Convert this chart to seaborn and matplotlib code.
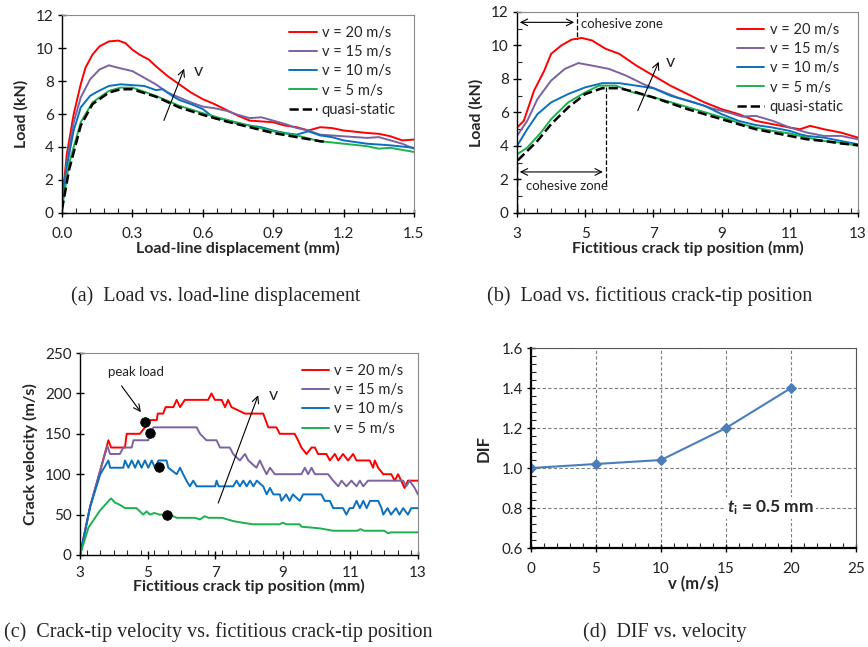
"""
Four panel figure: load and crack velocity curves for different loading rates,
plus the dynamic increase factor (DIF) against velocity.
"""

import numpy as np
import pandas as pd
import matplotlib
matplotlib.use("Agg")
import matplotlib.pyplot as plt
from matplotlib.ticker import MultipleLocator, AutoMinorLocator
import seaborn as sns

# ---------------- data ----------------
SERIES = ["v = 20 m/s", "v = 15 m/s", "v = 10 m/s", "v = 5 m/s", "quasi-static"]
COLORS = ["#FF0000", "#7B62A3", "#0A70C0", "#1DB04F", "black"]

# (a) load vs load-line displacement (mm, kN)
a_x20 = [0, 0.02, 0.05, 0.08, 0.1, 0.13, 0.16, 0.2, 0.24, 0.27, 0.3, 0.33, 0.37, 0.4, 0.45,
         0.5, 0.55, 0.6, 0.65, 0.7, 0.75, 0.8, 0.85, 0.9, 0.95, 1.0, 1.05, 1.1, 1.15, 1.2,
         1.3, 1.35, 1.4, 1.45, 1.5]
a_y20 = [0.5, 3.5, 6.0, 7.8, 8.8, 9.6, 10.1, 10.4, 10.45, 10.3, 9.9, 9.6, 9.3, 8.9, 8.3,
         7.8, 7.3, 6.9, 6.6, 6.25, 5.9, 5.6, 5.55, 5.5, 5.3, 5.2, 5.0, 5.2, 5.15, 5.0,
         4.85, 4.8, 4.65, 4.4, 4.45]
a_x15 = [0, 0.02, 0.05, 0.08, 0.12, 0.16, 0.2, 0.24, 0.3, 0.35, 0.4, 0.45, 0.5, 0.55, 0.6,
         0.65, 0.7, 0.75, 0.8, 0.85, 0.9, 0.95, 1.0, 1.05, 1.1, 1.2, 1.3, 1.35, 1.4, 1.45, 1.5]
a_y15 = [0.4, 3.0, 5.5, 7.0, 8.1, 8.7, 8.95, 8.8, 8.6, 8.2, 7.8, 7.3, 7.0, 6.7, 6.45,
         6.35, 6.2, 5.95, 5.75, 5.8, 5.6, 5.4, 5.15, 5.0, 4.75, 4.65, 4.55, 4.6, 4.4, 4.2, 3.9]
a_x10 = [0, 0.02, 0.05, 0.08, 0.12, 0.15, 0.2, 0.25, 0.3, 0.35, 0.4, 0.43, 0.47, 0.5, 0.55,
         0.6, 0.65, 0.7, 0.75, 0.8, 0.85, 0.9, 0.95, 1.0, 1.05, 1.1, 1.15, 1.2, 1.3, 1.4, 1.5]
a_y10 = [0.3, 2.8, 5.0, 6.4, 7.1, 7.35, 7.7, 7.8, 7.75, 7.7, 7.45, 7.5, 7.1, 6.85, 6.6,
         6.3, 5.75, 5.65, 5.4, 5.3, 5.2, 5.0, 4.85, 4.75, 4.95, 4.7, 4.6, 4.4, 4.2, 4.1, 3.95]
a_x5 = [0, 0.03, 0.08, 0.13, 0.2, 0.25, 0.3, 0.35, 0.4, 0.45, 0.5, 0.6, 0.7, 0.8, 0.9,
        1.0, 1.1, 1.2, 1.3, 1.35, 1.4, 1.5]
a_y5 = [0.3, 3.0, 5.5, 6.7, 7.4, 7.6, 7.6, 7.35, 7.1, 6.8, 6.5, 6.05, 5.65, 5.3, 4.95,
        4.7, 4.35, 4.2, 4.05, 3.9, 3.95, 3.7]
a_xqs = [0, 0.03, 0.08, 0.13, 0.2, 0.25, 0.3, 0.4, 0.5, 0.6, 0.7, 0.8, 0.9, 1.0, 1.1, 1.13]
a_yqs = [0.2, 2.6, 5.3, 6.6, 7.3, 7.5, 7.5, 7.05, 6.4, 5.95, 5.55, 5.2, 4.85, 4.6, 4.35, 4.3]

# (b) load vs fictitious crack tip position (mm, kN)
b_x20 = [3, 3, 3.2, 3.5, 3.8, 4.0, 4.3, 4.6, 4.9, 5.2, 5.6, 6.0, 6.5, 7.0, 7.5, 8.0, 8.5,
         9.0, 9.5, 10.0, 10.5, 11.0, 11.3, 11.6, 12.0, 12.5, 13.0]
b_y20 = [0, 5.1, 5.5, 7.3, 8.5, 9.5, 10.0, 10.35, 10.45, 10.3, 9.8, 9.5, 8.8, 8.2, 7.6,
         7.1, 6.6, 6.2, 5.9, 5.5, 5.3, 5.1, 5.0, 5.2, 5.0, 4.8, 4.5]
b_x15 = [3, 3, 3.3, 3.6, 4.0, 4.4, 4.8, 5.2, 5.7, 6.2, 6.7, 7.2, 7.7, 8.2, 8.7, 9.2, 9.6,
         10.0, 10.5, 11.0, 11.5, 12.0, 12.5, 13.0]
b_y15 = [0, 4.6, 5.5, 6.8, 7.9, 8.6, 8.95, 8.8, 8.6, 8.2, 7.7, 7.3, 6.9, 6.6, 6.25, 6.0,
         5.75, 5.8, 5.5, 5.1, 4.8, 4.6, 4.6, 4.4]
b_x10 = [3, 3, 3.3, 3.6, 4.0, 4.5, 5.0, 5.5, 6.0, 6.5, 7.0, 7.5, 8.0, 8.5, 9.0, 9.5, 10.0,
         10.5, 11.0, 11.3, 11.5, 12.0, 12.5, 13.0]
b_y10 = [0, 4.0, 5.0, 5.9, 6.6, 7.1, 7.5, 7.75, 7.75, 7.6, 7.45, 7.0, 6.7, 6.4, 5.9, 5.5,
         5.25, 5.1, 4.9, 4.7, 4.6, 4.5, 4.3, 4.1]
b_x5 = [3, 3, 3.3, 3.7, 4.0, 4.5, 5.0, 5.4, 5.9, 6.4, 6.8, 7.2, 7.7, 8.2, 8.7, 9.2, 9.6,
        10.0, 10.5, 11.0, 11.5, 12.0, 12.5, 13.0]
b_y5 = [0, 3.5, 3.9, 4.8, 5.6, 6.6, 7.2, 7.6, 7.6, 7.2, 7.0, 6.8, 6.5, 6.2, 5.9, 5.6,
        5.3, 5.1, 4.9, 4.75, 4.5, 4.3, 4.2, 4.0]
b_xqs = [3, 3, 3.2, 3.6, 4.0, 4.5, 5.0, 5.5, 6.0, 6.5, 7.0, 7.5, 8.0, 8.5, 9.0, 9.5, 10.0,
         10.5, 11.0, 11.5, 12.0, 12.5, 13.0]
b_yqs = [0, 3.1, 3.5, 4.3, 5.3, 6.3, 7.1, 7.45, 7.45, 7.2, 6.9, 6.55, 6.2, 5.9, 5.6, 5.3,
         5.0, 4.8, 4.6, 4.4, 4.3, 4.15, 4.05]

# (c) crack velocity vs fictitious crack tip position (mm, m/s)
c_x20 = [3.0, 3.3, 3.6, 3.84, 3.92, 4.33, 4.38, 4.77, 4.92, 5.07, 5.27, 5.3, 5.46, 5.53,
         5.76, 5.86, 5.96, 6.1, 6.79, 6.89, 6.99, 7.19, 7.29, 7.38, 7.48, 7.88, 8.42, 8.57,
         8.81, 8.91, 9.35, 9.45, 9.55, 9.7, 9.85, 9.95, 10.04, 10.29, 10.39, 10.54, 10.64,
         10.78, 10.93, 11.08, 11.18, 11.57, 11.67, 11.72, 11.82, 11.97, 12.21, 12.31, 12.41,
         12.5, 12.6, 12.7, 13.0]
c_y20 = [0, 60, 105, 142, 133, 133, 150, 150, 158, 167, 167, 175, 175, 183,
         183, 192, 183, 192, 192, 200, 192, 192, 183, 192, 183, 175, 175, 158,
         158, 150, 150, 142, 133, 125, 133, 133, 125, 125, 117, 125, 117,
         125, 117, 125, 117, 117, 108, 117, 108, 100, 100, 92, 100,
         92, 83, 92, 92]
c_x15 = [3.0, 3.3, 3.6, 3.81, 3.89, 4.18, 4.28, 4.53, 4.58, 5.02, 5.07, 5.17, 6.45, 6.55,
         6.74, 7.04, 7.14, 7.43, 7.53, 7.73, 7.88, 7.98, 8.22, 8.32, 8.42, 8.52, 8.62,
         8.76, 9.55, 9.65, 9.75, 9.85, 9.95, 10.34, 10.49, 10.64, 10.74, 10.88, 11.03,
         11.18, 11.28, 11.38, 11.52, 12.56, 12.65, 12.75, 12.9, 13.0]
c_y15 = [0, 60, 105, 135, 125, 125, 133, 133, 142, 142, 150, 158, 158, 150,
         142, 142, 133, 133, 125, 117, 125, 117, 108, 117, 108, 100, 108,
         100, 100, 108, 100, 108, 100, 100, 92, 85, 92, 85, 92,
         85, 92, 85, 92, 92, 85, 92, 83, 75]
c_x10 = [3.0, 3.3, 3.6, 3.84, 3.89, 4.28, 4.33, 4.43, 4.53, 4.63, 4.72, 4.82, 4.92, 5.02,
         5.12, 5.22, 5.32, 5.56, 5.61, 5.86, 5.96, 6.05, 6.15, 6.25, 6.35, 6.45, 7.0,
         7.04, 7.1, 7.53, 7.63, 7.73, 7.83, 7.93, 8.03, 8.13, 8.23, 8.42, 8.52, 8.62,
         8.72, 8.91, 8.96, 9.1, 9.2, 9.3, 9.5, 9.6, 10.14, 10.24, 10.39, 10.49, 10.78,
         10.88, 10.98, 11.08, 11.18, 11.28, 11.38, 11.48, 11.58, 11.82, 11.92, 11.97,
         12.1, 12.2, 12.35, 12.45, 12.56, 12.7, 12.8, 13.0]
c_y10 = [0, 60, 100, 117, 108, 108, 117, 108, 117, 108, 117, 108, 117, 108,
         117, 108, 117, 117, 108, 100, 108, 100, 92, 85, 92, 85, 85,
         92, 85, 85, 92, 85, 92, 85, 92, 85, 92, 85, 75, 83,
         75, 75, 67, 75, 67, 75, 67, 75, 75, 67, 67, 58, 58,
         50, 58, 58, 67, 58, 67, 58, 67, 67, 58, 50,
         58, 50, 58, 50, 58, 50, 58, 58]
c_x5 = [3.0, 3.25, 3.59, 3.89, 3.92, 4.03, 4.18, 4.33, 4.67, 4.77, 4.87, 4.97, 5.07,
        5.2, 5.35, 5.66, 5.86, 6.4, 6.55, 6.69, 6.8, 7.2, 7.53, 7.8, 8.12, 8.9, 9.0,
        9.1, 9.5, 9.55, 10.09, 10.49, 11.2, 11.3, 11.4, 12.0, 12.11, 12.2, 13.0]
c_y5 = [0, 34, 55, 69, 70, 65, 62, 58, 58, 54, 50, 54, 50,
        52, 50, 50, 46, 46, 44, 48, 46, 46, 42, 40, 38, 38, 40,
        38, 38, 35, 33, 30, 30, 32, 30, 30, 27, 28, 28]
c_peak_x = [4.92, 5.07, 5.33, 5.56]
c_peak_y = [164, 151, 109, 50]

# (d) DIF vs loading velocity
d_v = [0, 5, 10, 15, 20]
d_dif = [1.0, 1.02, 1.04, 1.2, 1.4]

TICK_FONT = 11
LABEL_FONT = 11.5
LEGEND_FONT = 10.5
CAPTION_FONT = 14.5


def style_axes(ax):
    """Excel-like frame: black left/bottom, grey top/right, inward minor ticks."""
    for side in ["left", "bottom"]:
        ax.spines[side].set_color("black")
        ax.spines[side].set_linewidth(1.0)
    for side in ["top", "right"]:
        ax.spines[side].set_visible(True)
        ax.spines[side].set_color("#8a8a8a")
        ax.spines[side].set_linewidth(0.8)
    ax.tick_params(which="major", direction="inout", length=6, width=1.0,
                   labelsize=TICK_FONT, colors="black", labelcolor="#222222")
    ax.tick_params(which="minor", direction="in", length=3.5, width=0.8)
    ax.tick_params(axis="x", which="major", pad=7)
    ax.tick_params(axis="y", which="major", pad=3)
    ax.tick_params(top=False, right=False, which="both")


def add_legend(ax, anchor, handlelength=1.9):
    ax.legend(loc="upper right", bbox_to_anchor=anchor, frameon=False,
              fontsize=LEGEND_FONT, handlelength=handlelength, handletextpad=0.35,
              labelspacing=0.36, borderaxespad=0.0)


def draw_lines(ax, xs, ys, labels, colors):
    for x, y, lab, col in zip(xs, ys, labels, colors):
        ls = "--" if lab == "quasi-static" else "-"
        lw = 1.8 if lab == "quasi-static" else 1.4
        sns.lineplot(x=x, y=y, ax=ax, color=col, lw=lw, linestyle=ls, label=lab,
                     estimator=None, sort=False)


def panel_a(ax):
    draw_lines(ax, [a_x20, a_x15, a_x10, a_x5, a_xqs],
               [a_y20, a_y15, a_y10, a_y5, a_yqs], SERIES, COLORS)
    ax.set_xlim(0, 1.5)
    ax.set_ylim(0, 12)
    ax.xaxis.set_major_locator(MultipleLocator(0.3))
    ax.xaxis.set_minor_locator(AutoMinorLocator(5))
    ax.yaxis.set_major_locator(MultipleLocator(2))
    ax.xaxis.set_major_formatter(plt.FormatStrFormatter("%.1f"))
    style_axes(ax)
    ax.set_xlabel("Load-line displacement (mm)", fontsize=LABEL_FONT, fontweight="bold", labelpad=0)
    ax.set_ylabel("Load (kN)", fontsize=LABEL_FONT, fontweight="bold", labelpad=5)
    ax.annotate("", xy=(0.525, 8.9), xytext=(0.43, 5.45),
                arrowprops=dict(arrowstyle="->", lw=0.8, color="black"))
    ax.text(0.58, 8.6, "v", fontsize=13, va="center", ha="center")
    add_legend(ax, (0.965, 0.975))


def panel_b(ax):
    draw_lines(ax, [b_x20, b_x15, b_x10, b_x5, b_xqs],
               [b_y20, b_y15, b_y10, b_y5, b_yqs], SERIES, COLORS)
    ax.set_xlim(3, 13)
    ax.set_ylim(0, 12)
    ax.set_xticks(np.arange(3, 14, 2))
    ax.xaxis.set_minor_locator(MultipleLocator(0.4))
    ax.yaxis.set_major_locator(MultipleLocator(2))
    ax.yaxis.set_minor_locator(AutoMinorLocator(2))
    style_axes(ax)
    ax.set_xlabel("Fictitious crack tip position (mm)", fontsize=LABEL_FONT, fontweight="bold", labelpad=0)
    ax.set_ylabel("Load (kN)", fontsize=LABEL_FONT, fontweight="bold", labelpad=5)

    # cohesive zone markers
    ax.plot([4.76, 4.76], [12, 10.4], color="black", lw=0.9, ls="--")
    ax.annotate("", xy=(3.0, 11.38), xytext=(4.76, 11.38),
                arrowprops=dict(arrowstyle="<->", lw=0.8, color="black"))
    ax.text(4.88, 11.3, "cohesive zone", fontsize=9.5, va="center", ha="left", color="#222222")
    ax.plot([5.6, 5.6], [7.5, 1.7], color="black", lw=0.9, ls="--")
    ax.annotate("", xy=(3.0, 2.45), xytext=(5.6, 2.45),
                arrowprops=dict(arrowstyle="<->", lw=0.8, color="black"))
    ax.text(3.25, 1.6, "cohesive zone", fontsize=9.5, va="center", ha="left", color="#222222")

    ax.annotate("", xy=(7.19, 9.18), xytext=(6.51, 5.96),
                arrowprops=dict(arrowstyle="->", lw=0.8, color="black"))
    ax.text(7.5, 9.0, "v", fontsize=13, va="center", ha="center")
    add_legend(ax, (0.975, 0.975))


def panel_c(ax):
    draw_lines(ax, [c_x20, c_x15, c_x10, c_x5],
               [c_y20, c_y15, c_y10, c_y5], SERIES[:4], COLORS[:4])
    sns.scatterplot(x=c_peak_x, y=c_peak_y, ax=ax, color="black", s=48, zorder=5,
                    edgecolor="black", legend=False)
    ax.set_xlim(3, 13)
    ax.set_ylim(0, 250)
    ax.set_xticks(np.arange(3, 14, 2))
    ax.xaxis.set_minor_locator(MultipleLocator(0.4))
    ax.yaxis.set_major_locator(MultipleLocator(50))
    style_axes(ax)
    ax.tick_params(axis="x", which="major", pad=5)
    ax.set_xlabel("Fictitious crack tip position (mm)", fontsize=LABEL_FONT, fontweight="bold", labelpad=-1)
    ax.set_ylabel("Crack velocity (m/s)", fontsize=LABEL_FONT, fontweight="bold", labelpad=5)
    ax.text(4.65, 226, "peak load", fontsize=9.5, va="center", ha="center", color="#222222")
    ax.annotate("", xy=(4.85, 174), xytext=(4.18, 212),
                arrowprops=dict(arrowstyle="->", lw=0.8, color="black"))
    ax.annotate("", xy=(8.3, 201), xytext=(7.06, 61),
                arrowprops=dict(arrowstyle="->", lw=0.8, color="black"))
    ax.text(8.71, 198, "v", fontsize=13, va="center", ha="center")
    add_legend(ax, (0.975, 0.975))


def panel_d(ax):
    frame = pd.DataFrame({"v": d_v, "DIF": d_dif})
    sns.lineplot(data=frame, x="v", y="DIF", ax=ax, color="#4A7EBB", lw=1.5,
                 marker="D", markersize=5.5, markeredgecolor="#4A7EBB")
    ax.set_xlim(0, 25)
    ax.set_ylim(0.6, 1.6)
    ax.xaxis.set_major_locator(MultipleLocator(5))
    ax.xaxis.set_minor_locator(MultipleLocator(1))
    ax.yaxis.set_major_locator(MultipleLocator(0.2))
    ax.yaxis.set_minor_locator(MultipleLocator(0.04))
    ax.yaxis.set_major_formatter(plt.FormatStrFormatter("%.1f"))
    ax.grid(True, which="major", color="#7f7f7f", ls=(0, (3, 2)), lw=0.8)
    ax.set_axisbelow(True)
    style_axes(ax)
    ax.spines["left"].set_linewidth(1.6)
    ax.spines["bottom"].set_linewidth(1.6)
    ax.spines["top"].set_color("#555555")
    ax.spines["right"].set_color("#555555")
    ax.set_xlabel("v (m/s)", fontsize=LABEL_FONT + 0.5, fontweight="bold", labelpad=0)
    ax.set_ylabel("DIF", fontsize=LABEL_FONT + 0.5, fontweight="bold", labelpad=7)
    ax.text(15.1, 0.8, r"$t_{\mathrm{i}}$ = 0.5 mm", fontsize=12.5, fontweight="bold",
            va="center", ha="left",
            bbox=dict(facecolor="white", edgecolor="none", pad=1.5))


def main():
    sns.set_theme(style="ticks")
    plt.rcParams["font.family"] = ["Lato", "DejaVu Sans"]
    plt.rcParams["mathtext.fontset"] = "custom"
    plt.rcParams["mathtext.it"] = "Lato:italic:bold"
    plt.rcParams["mathtext.rm"] = "Lato:bold"

    fig = plt.figure(figsize=(8.68, 6.47), dpi=100)
    ax_a = fig.add_axes([0.0714, 0.6708, 0.4055, 0.3060])
    ax_b = fig.add_axes([0.5956, 0.6708, 0.3929, 0.3107])
    ax_c = fig.add_axes([0.0922, 0.1422, 0.3894, 0.3122])
    ax_d = fig.add_axes([0.6118, 0.1530, 0.3744, 0.3091])

    panel_a(ax_a)
    panel_b(ax_b)
    panel_c(ax_c)
    panel_d(ax_d)

    caption = dict(fontsize=CAPTION_FONT, family="Liberation Serif", ha="center", va="center")
    fig.text(216 / 868, 1 - 296 / 647, "(a)  Load vs. load-line displacement", **caption)
    fig.text(650 / 868, 1 - 296 / 647, "(b)  Load vs. fictitious crack-tip position", **caption)
    fig.text(218 / 868, 1 - 632 / 647, "(c)  Crack-tip velocity vs. fictitious crack-tip position", **caption)
    fig.text(665 / 868, 1 - 632 / 647, "(d)  DIF vs. velocity", **caption)

    fig.savefig("out.png", dpi=100)
    plt.close(fig)


if __name__ == "__main__":
    main()
